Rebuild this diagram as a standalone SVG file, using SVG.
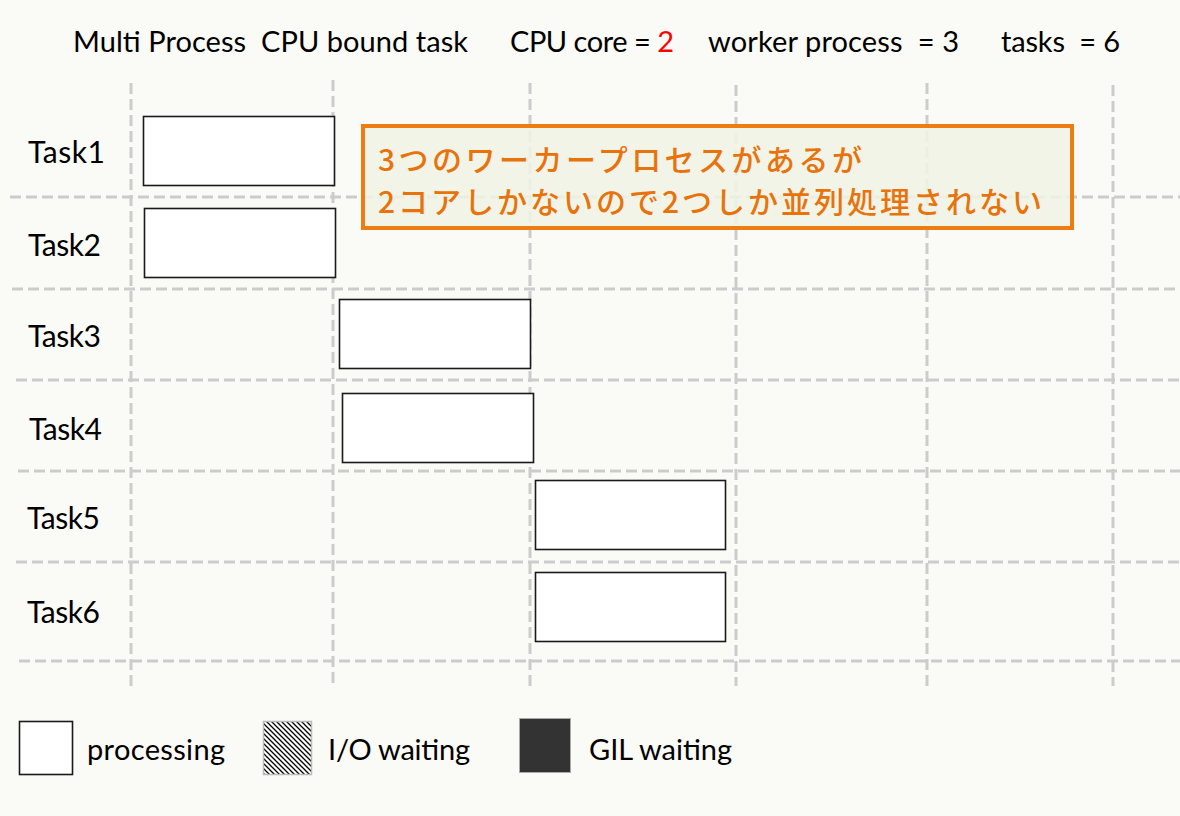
<svg xmlns="http://www.w3.org/2000/svg" width="1180" height="816" viewBox="0 0 1180 816">
<style>
text{font-family:Lato,"Liberation Sans",sans-serif;fill:#000;white-space:pre}
.hdr{font-size:29px}
.lbl{font-size:30px}
.leg{font-size:29px}
.grid line{stroke:#cccccc;stroke-width:3;stroke-dasharray:11 5}
.bar{fill:#ffffff;stroke:#1a1a1a;stroke-width:1.6}
.jp{font-family:"Noto Sans CJK JP","Noto Sans",sans-serif;font-size:30px;font-weight:500;fill:#e8730c}
</style>
<defs>
<pattern id="hatch" patternUnits="userSpaceOnUse" width="5" height="5">
<rect width="5" height="5" fill="#fff"/>
<path d="M0,0 L5,5 M-1,4 L1,6 M4,-1 L6,1" stroke="#000" stroke-width="1.3"/>
</pattern>
</defs>
<rect width="1180" height="816" fill="#fafaf6"/>
<g id="header">
<text class="hdr" x="73" y="52" textLength="395">Multi Process  CPU bound task</text>
<text class="hdr" x="510" y="52" textLength="164">CPU core = <tspan fill="#ff0000">2</tspan></text>
<text class="hdr" x="708" y="52" textLength="251">worker process  = 3</text>
<text class="hdr" x="1001" y="52" textLength="119">tasks  = 6</text>
</g>
<g id="grid" class="grid">
<line x1="10" y1="197" x2="1180" y2="197"/>
<line x1="12" y1="289" x2="1180" y2="289"/>
<line x1="16" y1="380" x2="1180" y2="380"/>
<line x1="18" y1="471" x2="1180" y2="471"/>
<line x1="16" y1="562" x2="1180" y2="562"/>
<line x1="19" y1="661" x2="1180" y2="661"/>
<line x1="131" y1="83" x2="131" y2="686"/>
<line x1="333" y1="80" x2="333" y2="686"/>
<line x1="530" y1="83" x2="530" y2="686"/>
<line x1="736" y1="85" x2="736" y2="686"/>
<line x1="927" y1="83" x2="927" y2="686"/>
<line x1="1113" y1="85" x2="1113" y2="686"/>
</g>
<g id="task1"><text class="lbl" x="28" y="163" textLength="77">Task1</text><rect class="bar" x="143.5" y="116.5" width="191" height="69"/></g>
<g id="task2"><text class="lbl" x="28" y="256" textLength="73">Task2</text><rect class="bar" x="144.5" y="208.5" width="191" height="69"/></g>
<g id="task3"><text class="lbl" x="28" y="347" textLength="73">Task3</text><rect class="bar" x="339.5" y="299.5" width="191" height="69"/></g>
<g id="task4"><text class="lbl" x="29" y="440" textLength="73">Task4</text><rect class="bar" x="342.5" y="393.5" width="191" height="69"/></g>
<g id="task5"><text class="lbl" x="27" y="529" textLength="73">Task5</text><rect class="bar" x="535.5" y="480.5" width="190" height="69"/></g>
<g id="task6"><text class="lbl" x="27" y="623" textLength="73">Task6</text><rect class="bar" x="535.5" y="572.5" width="190" height="69"/></g>
<g id="callout">
<rect x="363" y="126" width="709" height="102" fill="#eff2e5" fill-opacity="0.88" stroke="#ee7d11" stroke-width="4"/>
<text class="jp" x="378" y="171" textLength="484">3つのワーカープロセスがあるが</text>
<text class="jp" x="378" y="213" textLength="664">2コアしかないので2つしか並列処理されない</text>
</g>
<g id="legend-processing"><rect x="19.5" y="721.5" width="53" height="53" fill="#fff" stroke="#1a1a1a" stroke-width="1.6"/><text class="leg" x="87" y="760" textLength="138">processing</text></g>
<g id="legend-io"><rect x="263.5" y="721.5" width="48" height="53" fill="url(#hatch)" stroke="#bbbbbb" stroke-width="1.5"/><text class="leg" x="328" y="760" textLength="142">I/O waiting</text></g>
<g id="legend-gil"><rect x="519.5" y="718.5" width="51" height="54" fill="#333333" stroke="#aaaaaa" stroke-width="1"/><text class="leg" x="589" y="760" textLength="143">GIL waiting</text></g>
</svg>
